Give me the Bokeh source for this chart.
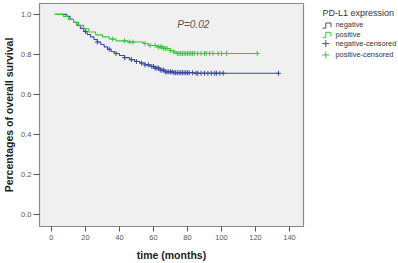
import numpy as np
from bokeh.plotting import figure
from bokeh.layouts import row
from bokeh.models import Range1d, FixedTicker, PrintfTickFormatter
from bokeh.core.properties import value
from bokeh.embed import file_html
from bokeh.resources import INLINE

# ---- data ----
neg_t = [2, 9, 11, 13, 15, 17, 19, 21, 23, 25, 27, 29, 31, 33, 35, 37, 40, 43, 46, 49, 52, 55, 58, 61, 64, 67, 72, 84]
neg_s = [1.0, 0.99, 0.975, 0.96, 0.945, 0.93, 0.915, 0.9, 0.888, 0.875, 0.862, 0.85, 0.838, 0.826, 0.815, 0.805,
         0.795, 0.784, 0.774, 0.765, 0.757, 0.748, 0.74, 0.732, 0.722, 0.713, 0.709, 0.706]
neg_end = 133.5
neg_cens = [20, 27, 34, 38, 43, 47, 50, 53, 55, 57, 59, 60, 61, 62, 63, 64, 65, 66, 67, 68, 69, 70, 71, 72, 73,
            74, 75, 76, 77, 78, 79, 80, 81, 83, 85, 86, 88, 90, 92, 94, 96, 97, 99, 101, 133.5]

pos_t = [2, 7, 10, 13, 16, 19, 22, 26, 30, 34, 38, 45, 54, 57, 62, 66, 70, 72, 74]
pos_s = [1.0, 0.99, 0.975, 0.96, 0.945, 0.928, 0.912, 0.898, 0.888, 0.877, 0.868, 0.862, 0.855, 0.845, 0.838,
         0.83, 0.82, 0.812, 0.805]
pos_end = 121
pos_cens = [36, 43, 46, 48, 55, 58, 61, 63, 64, 65, 66, 67, 68, 70, 72, 74, 75, 76, 77, 78, 79, 80, 81, 82, 83,
            84, 86, 88, 90, 91, 93, 95, 98, 100, 103, 121]

x_ticks = [0, 20, 40, 60, 80, 100, 120, 140]
y_ticks = [0.0, 0.2, 0.4, 0.6, 0.8, 1.0]
p_text = "P=0.02"
legend_title = "PD-L1 expression"
legend_labels = ["negative", "positive", "negative-censored", "positive-censored"]

BLUE = "#3a4aa6"
GREEN = "#3cc43c"
FONT = "Liberation Sans"


def surv_at(times, surv, t):
    idx = np.searchsorted(np.array(times), np.array(t), side="right") - 1
    return np.array(surv)[idx]


p = figure(width=310, height=263, output_backend="svg", toolbar_location=None,
           x_range=Range1d(-7.0, 148.2), y_range=Range1d(-0.0594, 1.0545),
           min_border_left=37, min_border_right=7, min_border_top=3, min_border_bottom=35)
p.background_fill_color = "#f0f0f0"
p.border_fill_color = "white"
p.outline_line_color = "#8a8a8a"
p.outline_line_width = 1.2
p.xgrid.visible = False
p.ygrid.visible = False

for ax in (p.xaxis[0], p.yaxis[0]):
    ax.axis_line_color = "#8a8a8a"
    ax.major_tick_line_color = "#555555"
    ax.major_tick_in = 0
    ax.minor_tick_line_color = None
    ax.major_label_text_font = FONT
    ax.major_label_text_font_size = "7.5px"
    ax.major_label_text_color = "#555555"
    ax.axis_label_text_font = FONT
    ax.axis_label_text_font_style = "bold"
    ax.axis_label_text_font_size = "10.5px"
    ax.axis_label_text_color = "#222222"

p.xaxis.major_tick_out = 5
p.yaxis.major_tick_out = 6
p.xaxis.ticker = FixedTicker(ticks=x_ticks)
p.yaxis.ticker = FixedTicker(ticks=y_ticks)
p.yaxis.formatter = PrintfTickFormatter(format="%.1f")
p.xaxis.axis_label = "time (months)"
p.yaxis.axis_label = "Percentages of overall survival"
p.xaxis.major_label_standoff = 3
p.yaxis.major_label_standoff = 2
p.xaxis.axis_label_standoff = 6
p.yaxis.axis_label_standoff = 3

# step curves
p.step(neg_t + [neg_end], neg_s + [neg_s[-1]], mode="after", line_color=BLUE, line_width=1.1)
p.step(pos_t + [pos_end], pos_s + [pos_s[-1]], mode="after", line_color=GREEN, line_width=1.1)

# censor marks
p.scatter(neg_cens, surv_at(neg_t, neg_s, neg_cens), marker="cross", size=5, line_color=BLUE, line_width=1)
p.scatter(pos_cens, surv_at(pos_t, pos_s, pos_cens), marker="cross", size=5, line_color=GREEN, line_width=1)

p.text(x=[83.4], y=[0.95], text=[p_text], text_font=value(FONT), text_font_style="italic",
       text_font_size="10px", text_color="#555555", text_align="center", text_baseline="middle")

# legend panel (pixel-like coordinates, y downward)
lg = figure(width=88, height=263, output_backend="svg", toolbar_location=None,
            x_range=Range1d(0, 88), y_range=Range1d(263, 0),
            min_border=0, x_axis_type=None, y_axis_type=None)
lg.outline_line_color = None
lg.xgrid.visible = False
lg.ygrid.visible = False
lg.background_fill_color = "white"
lg.border_fill_color = "white"

lg.text(x=[12], y=[11], text=[legend_title], text_font=value(FONT), text_font_size="9px",
        text_color="#333333", text_baseline="middle")
lg.line([12, 15.3, 15.3, 20.5, 20.5], [29, 29, 23, 23, 28], line_color=BLUE, line_width=1)
lg.line([12, 15.3, 15.3, 20.5, 20.5], [40, 40, 34, 34, 39], line_color=GREEN, line_width=1)
lg.scatter([15.3], [47.3], marker="cross", size=7, line_color=BLUE, line_width=1)
lg.scatter([15.3], [60.7], marker="cross", size=7, line_color=GREEN, line_width=1)
lg.text(x=[25, 25, 25, 25], y=[24.7, 36.7, 47.3, 60.7], text=legend_labels, text_font=value(FONT),
        text_font_size="7.4px", text_color="#333333", text_baseline="middle")

layout = row(p, lg)
open("out.html", "w").write(file_html(layout, INLINE))
